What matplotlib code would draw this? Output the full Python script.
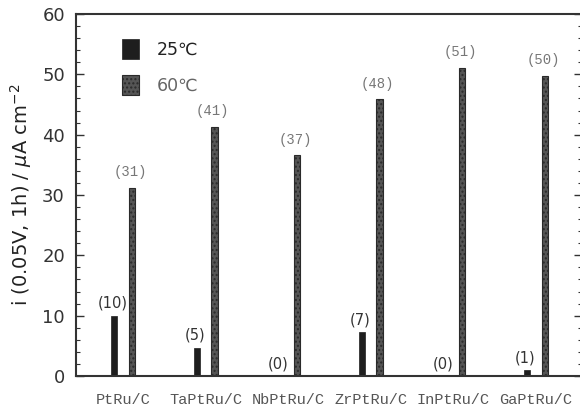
import matplotlib
matplotlib.use("Agg")
import matplotlib.pyplot as plt
import numpy as np
from matplotlib.ticker import MultipleLocator

categories = ["PtRu/C", "TaPtRu/C", "NbPtRu/C", "ZrPtRu/C", "InPtRu/C", "GaPtRu/C"]
vals_25 = [10.0, 4.7, 0.0, 7.3, 0.0, 1.0]
vals_60 = [31.2, 41.3, 36.6, 45.9, 51.1, 49.8]
labels_25 = ["(10)", "(5)", "(0)", "(7)", "(0)", "(1)"]
labels_60 = ["(31)", "(41)", "(37)", "(48)", "(51)", "(50)"]

plt.rcParams['hatch.color'] = '#9a9a9a'
fig = plt.figure(figsize=(5.8, 4.11), dpi=100)
ax = fig.add_axes([76/580, 35/411, 506/580, 362/411])

x = np.arange(len(categories))
off = 0.107
w = 0.075
ax.bar(x - off, vals_25, width=w, color="#1e1e1e", edgecolor="#1e1e1e", linewidth=0.5, label="25℃")
ax.bar(x + off, vals_60, width=w, color="#555555", edgecolor="#2a2a2a", linewidth=0.8,
       hatch="....", label="60℃")

for xi, v, t in zip(x, vals_25, labels_25):
    ax.text(xi - off - 0.02, v + 0.8, t, ha="center", va="bottom", fontsize=10.5,
            family="DejaVu Sans", color="#333333")
for xi, v, t in zip(x, vals_60, labels_60):
    ax.text(xi + off - 0.02, v + 1.4, t, ha="center", va="bottom", fontsize=10,
            family="Liberation Mono", color="#777777")

ax.set_xlim(-0.57, 5.56)
ax.set_ylim(0, 60)
ax.yaxis.set_major_locator(MultipleLocator(10))
ax.yaxis.set_minor_locator(MultipleLocator(2))
ax.tick_params(axis="y", which="both", direction="in", right=True, labelsize=13,
               colors="#333333")
ax.tick_params(axis="y", which="major", length=6, width=1)
ax.tick_params(axis="y", which="minor", length=3, width=0.8)
ax.tick_params(axis="y", pad=8)
ax.set_xticks(x)
ax.set_xticklabels(categories, family="Liberation Mono", fontsize=11, color="#555555")
ax.tick_params(axis="x", length=0, pad=12)
for s in ax.spines.values():
    s.set_linewidth(1.5)
    s.set_color("#333333")
ax.spines["right"].set_visible(False)

ax.set_ylabel("i (0.05V, 1h) / $\\mu$A cm$^{-2}$", fontsize=14, color="#222222", labelpad=6)

leg = ax.legend(loc="upper left", bbox_to_anchor=(0.06, 0.975), frameon=False, fontsize=12.5,
                handlelength=1.0, handleheight=1.4, handletextpad=1.0, labelspacing=0.95)
for t, c in zip(leg.get_texts(), ["#222222", "#666666"]):
    t.set_color(c)

fig.savefig("out.png", dpi=100)
